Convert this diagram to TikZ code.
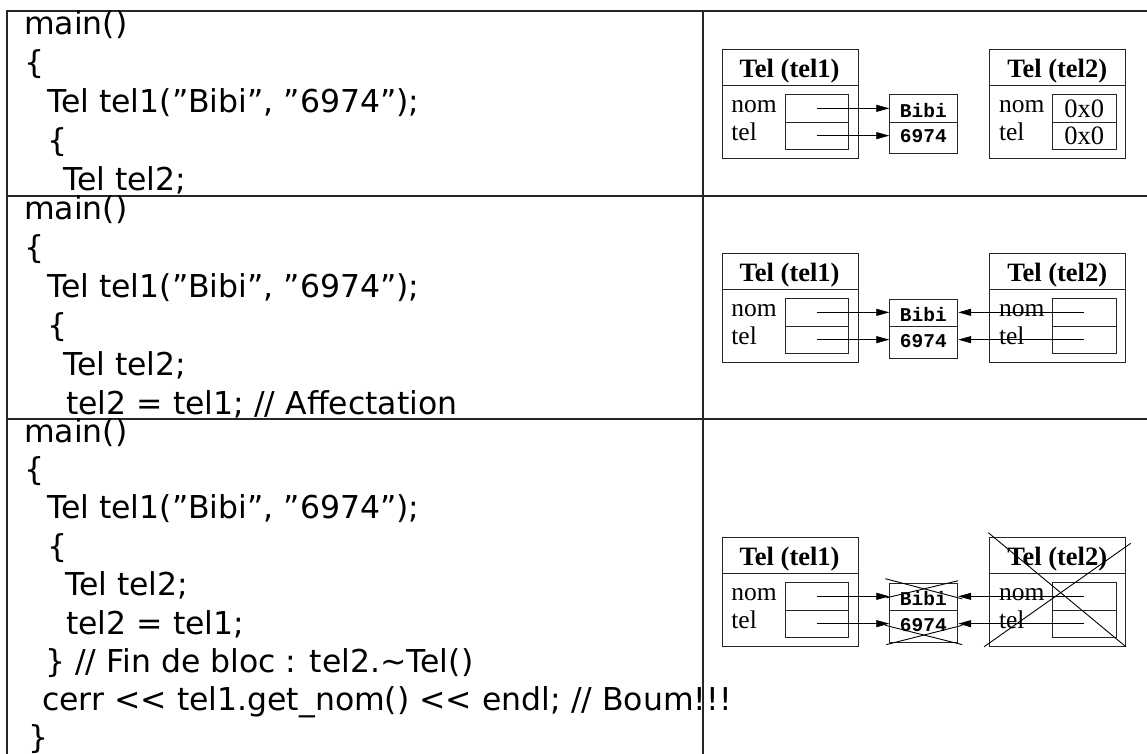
\documentclass[tikz,border=0pt]{standalone}
\usepackage{fontspec}
\setmainfont{Liberation Serif}
\newfontfamily\codefont{DejaVu Sans}
\newfontfamily\strfont{Liberation Mono}
\usetikzlibrary{arrows.meta}

\tikzset{
  code/.style={anchor=base west, inner sep=0pt, font=\codefont\fontsize{31.5bp}{39bp}\selectfont},
  gridline/.style={line width=1.3bp, draw=black!85},
  objline/.style={line width=0.9bp, draw=black!85},
  objbox/.style={objline, minimum width=135.8bp, minimum height=108.6bp, anchor=north west, inner sep=0pt},
  objtitle/.style={anchor=base, inner sep=0pt, font=\bfseries\fontsize{26.5bp}{30bp}\selectfont},
  lbl/.style={anchor=base west, inner sep=0pt, font=\fontsize{25.5bp}{30bp}\selectfont},
  cellbox/.style={objline, minimum width=63.5bp, minimum height=27.3bp, inner sep=0pt, font=\fontsize{26.5bp}{30bp}\selectfont},
  strcell/.style={objline, minimum width=68bp, inner sep=0pt, anchor=north west},
  strtxt/.style={anchor=base, inner sep=0pt, font=\strfont\bfseries\fontsize{19.5bp}{21bp}\selectfont},
  ptr/.style={line width=0.8bp, -{Triangle[length=13bp,width=7bp]}},
  cross/.style={line width=0.9bp},
}

% #1 name, #2 left, #3 top, #4 title, #5 cell text
\newcommand\telobj[5]{%
  \begin{scope}[shift={(#2,#3)}]
    \node[objbox] (#1) at (0,0) {};
    \draw[objline] (0,36) -- (135.8,36);
    \node[objtitle] (#1-t) at (67.9,28.5) {#4};
    \node[lbl] (#1-ln) at (9.5,62.8) {nom};
    \node[lbl] (#1-lt) at (9.5,90.7) {tel};
    \node[cellbox] (#1-nom) at (95.05,59.05) {#5};
    \node[cellbox] (#1-tel) at (95.05,86.35) {#5};
  \end{scope}}

% #1 name, #2 top
\newcommand\strobj[2]{%
  \begin{scope}[shift={(889.3,#2)}]
    \node[strcell, minimum height=27.4bp] (#1-b) at (0,0) {};
    \node[strcell, minimum height=31.6bp] (#1-n) at (0,27.4) {};
    \node[strtxt] (#1-bt) at (34,23) {Bibi};
    \node[strtxt] (#1-nt) at (34,48.4) {6974};
  \end{scope}}

\begin{document}
\begin{tikzpicture}[x=1bp,y=-1bp]
\useasboundingbox (0,0) rectangle (1147,754);

% table
\draw[gridline] (7,754) -- (7,11) -- (1147,11);
\draw[gridline] (7,196) -- (1147,196);
\draw[gridline] (7,419) -- (1147,419);
\draw[gridline] (703,11) -- (703,754);

% row 1 code
\node[code] (a1) at (24,34.5) {main()};
\node[code] (a2) at (24,73.5) {\{};
\node[code] (a3) at (47,112.5) {Tel tel1(”Bibi”, ”6974”);};
\node[code] (a4) at (47,151.5) {\{};
\node[code] (a5) at (63,190.5) {Tel tel2;};

% row 2 code
\node[code] (b1) at (24,219.5) {main()};
\node[code] (b2) at (24,258.5) {\{};
\node[code] (b3) at (47,297.5) {Tel tel1(”Bibi”, ”6974”);};
\node[code] (b4) at (47,336.5) {\{};
\node[code] (b5) at (63,375.5) {Tel tel2;};
\node[code] (b6) at (66,414.5) {tel2 = tel1; // Affectation};

% row 3 code
\node[code] (c1) at (24,442) {main()};
\node[code] (c2) at (24,480.4) {\{};
\node[code] (c3) at (47,518.8) {Tel tel1(”Bibi”, ”6974”);};
\node[code] (c4) at (47,557.2) {\{};
\node[code] (c5) at (65,595.6) {Tel tel2;};
\node[code] (c6) at (66,634) {tel2 = tel1;};
\node[code] (c7) at (45,672.4) {\} // Fin de bloc : tel2.\textasciitilde Tel()};
\node[code] (c8) at (42,710.8) {cerr << tel1.get\_nom() << endl; // Boum!!!};
\node[code] (c9) at (28,748) {\}};

% row 1 diagram
\telobj{p1}{721.7}{49.3}{Tel (tel1)}{}
\telobj{q1}{989.3}{49.3}{Tel (tel2)}{0x0}
\strobj{s1}{94.3}
\draw[ptr] (p1-nom.center) -- (p1-nom.center -| s1-b.west);
\draw[ptr] (p1-tel.center) -- (p1-tel.center -| s1-n.west);

% row 2 diagram
\telobj{p2}{721.7}{253.3}{Tel (tel1)}{}
\telobj{q2}{989.3}{253.3}{Tel (tel2)}{}
\strobj{s2}{298.7}
\draw[ptr] (p2-nom.center) -- (p2-nom.center -| s2-b.west);
\draw[ptr] (p2-tel.center) -- (p2-tel.center -| s2-n.west);
\draw[ptr] (q2-nom.center) -- (q2-nom.center -| s2-b.east);
\draw[ptr] (q2-tel.center) -- (q2-tel.center -| s2-n.east);

% row 3 diagram
\telobj{p3}{721.7}{537.3}{Tel (tel1)}{}
\telobj{q3}{989.3}{537.3}{Tel (tel2)}{}
\strobj{s3}{582.7}
\draw[ptr] (p3-nom.center) -- (p3-nom.center -| s3-b.west);
\draw[ptr] (p3-tel.center) -- (p3-tel.center -| s3-n.west);
\draw[ptr] (q3-nom.center) -- (q3-nom.center -| s3-b.east);
\draw[ptr] (q3-tel.center) -- (q3-tel.center -| s3-n.east);
% crossings
\draw[cross] ([shift={(-4,-4)}]s3-b.north west) -- ([shift={(4,2)}]s3-b.east);
\draw[cross] ([shift={(-3,1)}]s3-b.west) -- ([shift={(0,-2)}]s3-b.north east);
\draw[cross] ([shift={(-4,-1)}]s3-n.west) -- ([shift={(4,2)}]s3-n.south east);
\draw[cross] ([shift={(-3,2)}]s3-n.south west) -- ([shift={(4,-1)}]s3-n.east);
\draw[cross] ([shift={(-1,-4.6)}]q3.north west) -- (q3.south east);
\draw[cross] ([shift={(4.7,6)}]q3.north east) -- ([shift={(-5.3,0)}]q3.south west);
\end{tikzpicture}
\end{document}
